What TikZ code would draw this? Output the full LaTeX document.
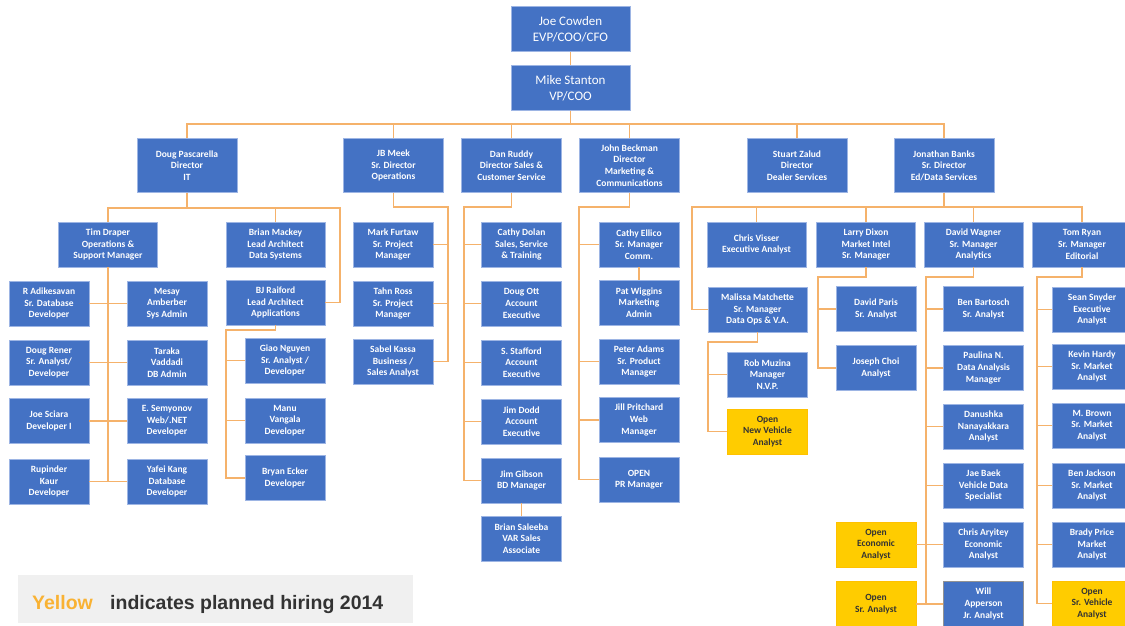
\documentclass[tikz,border=0pt]{standalone}
\usepackage{fontspec}
\setmainfont{Carlito}
\newfontfamily\keyfont{Liberation Sans}
\usetikzlibrary{positioning,calc}
\definecolor{boxblue}{HTML}{4472C4}
\definecolor{boxedge}{HTML}{9DB5E4}
\definecolor{linkorange}{HTML}{F5B26B}
\definecolor{openyellow}{HTML}{FFCC00}
\definecolor{keygray}{HTML}{F0F0F0}
\definecolor{keyyellow}{HTML}{F9B233}
\definecolor{keytext}{HTML}{333333}
\tikzset{
  staffbox/.style={draw=boxedge, line width=0.7pt, fill=boxblue, text=white, align=center,
    minimum width=80pt, minimum height=45pt, inner sep=1pt,
    font=\bfseries\fontsize{9.5}{11.6}\selectfont},
  widebox/.style={staffbox, minimum width=99pt},
  dirbox/.style={widebox, minimum width=100pt, minimum height=54pt},
  topbox/.style={staffbox, minimum width=119pt, minimum height=45pt,
    font=\fontsize{13}{16}\selectfont},
  openbox/.style={staffbox, draw=openyellow!85!orange, fill=openyellow, text=black!80},
  willbox/.style={staffbox, draw=gray!85, line width=1.3pt},
  link/.style={draw=linkorange, line width=1.8pt},
  thinlink/.style={link, line width=1.3pt}
}
\begin{document}
\begin{tikzpicture}[x=1pt,y=-1pt]
  \useasboundingbox (0,0) rectangle (1125,626);
  \node[topbox] (jc) at (570.5,29) {Joe Cowden\\EVP/COO/CFO};
  \node[topbox] (ms) at (570.5,88) {Mike Stanton\\VP/COO};
  \draw[link] (jc.south) -- (ms.north);
  \foreach \n/\x/\t in {
    dp/187/{Doug Pascarella\\Director\\IT},
    jm/393.5/{JB Meek\\Sr. Director\\Operations},
    dr/511.5/{Dan Ruddy\\Director Sales \&\\Customer Service},
    jb/629.5/{John Beckman\\Director\\Marketing \&\\Communications},
    sz/797/{Stuart Zalud\\Director\\Dealer Services},
    jbk/944/{Jonathan Banks\\Sr. Director\\Ed/Data Services}} {
    \node[dirbox] (\n) at (\x,165.5) {\t};
    \draw[link] (ms.south) -- ++(0,13) -| (\n.north);
  }

  % IT
  \node[widebox] (td) at (108,244.5) {Tim Draper\\Operations \&\\Support Manager};
  \node[widebox] (bm) at (275.5,244.5) {Brian Mackey\\Lead Architect\\Data Systems};
  \node[widebox] (bj) at (275.5,302.5) {BJ Raiford\\Lead Architect\\Applications};
  \draw[link] (dp.south) -- ++(0,15) -| (td.north);
  \draw[link] (dp.south) -- ++(0,15) -| (bm.north);
  \draw[link] (dp.south) |- ++(153,15) |- (bj.east);
  \foreach \a/\b/\y/\s/\t in {
    ra/mab/303.5/{R Adikesavan\\Sr. Database\\Developer}/{Mesay\\Amberber\\Sys Admin},
    drn/tv/362.5/{Doug Rener\\Sr. Analyst/\\Developer}/{Taraka\\Vaddadi\\DB Admin},
    js/es/421/{Joe Sciara\\Developer I}/{E. Semyonov\\Web/.NET\\Developer},
    rk/yk/481.5/{Rupinder\\Kaur\\Developer}/{Yafei Kang\\Database\\Developer}} {
    \node[staffbox] (\a) at (49,\y) {\s};
    \node[staffbox] (\b) at (167,\y) {\t};
    \draw[thinlink] (\a.east) -- (\b.west);
  }
  \draw[thinlink] (td.south) -- (td.south |- rk.east);
  \foreach \n/\y/\t in {
    gn/360.5/{Giao Nguyen\\Sr. Analyst /\\Developer},
    mv/420.5/{Manu\\Vangala\\Developer},
    be/478/{Bryan Ecker\\Developer}} {
    \node[staffbox] (\n) at (285,\y) {\t};
    \draw[link] (bj.south) -- ++(0,5) -| ([xshift=-19pt]\n.west) -- (\n.west);
  }

  % Operations
  \foreach \n/\y/\t in {
    mf/244.5/{Mark Furtaw\\Sr. Project\\Manager},
    tro/303.5/{Tahn Ross\\Sr. Project\\Manager},
    sk/361.5/{Sabel Kassa\\Business /\\Sales Analyst}} {
    \node[staffbox] (\n) at (393,\y) {\t};
    \draw[link] (jm.south) -- ++(0,14) -| ([xshift=15pt]\n.east) -- (\n.east);
  }

  % Sales
  \foreach \n/\y/\t in {
    cdo/244.5/{Cathy Dolan\\Sales, Service\\\& Training},
    dot/303.5/{Doug Ott\\Account\\Executive},
    sst/362.5/{S. Stafford\\Account\\Executive},
    jdd/421.5/{Jim Dodd\\Account\\Executive},
    jgb/480.5/{Jim Gibson\\BD Manager}} {
    \node[staffbox] (\n) at (521.5,\y) {\t};
    \draw[link] (dr.south) -- ++(0,14) -| ([xshift=-17pt]\n.west) -- (\n.west);
  }
  \node[staffbox] (bsa) at (521.5,538.5) {Brian Saleeba\\VAR Sales\\Associate};
  \draw[link] (jgb.south) -- (bsa.north);

  % Marketing
  \foreach \n/\y/\t in {
    cel/244.5/{Cathy Ellico\\Sr. Manager\\Comm.},
    pad/361.5/{Peter Adams\\Sr. Product\\Manager},
    jpr/420/{Jill Pritchard\\Web\\Manager},
    opr/479.5/{OPEN\\PR Manager}} {
    \node[staffbox] (\n) at (639,\y) {\t};
    \draw[link] (jb.south) -- ++(0,14) -| ([xshift=-20pt]\n.west) -- (\n.west);
  }
  \node[staffbox] (pwg) at (639,302.5) {Pat Wiggins\\Marketing\\Admin};
  \draw[link] (cel.south) -- (pwg.north);

  % Ed/Data Services
  \foreach \n/\x/\t in {
    cv/756.5/{Chris Visser\\Executive Analyst},
    ldx/866/{Larry Dixon\\Market Intel\\Sr. Manager},
    dwg/973.5/{David Wagner\\Sr. Manager\\Analytics},
    try/1082/{Tom Ryan\\Sr. Manager\\Editorial}} {
    \node[widebox] (\n) at (\x,244.5) {\t};
    \draw[link] (jbk.south) -- ++(0,14) -| (\n.north);
  }
  \node[widebox] (mm) at (757.5,309.5) {Malissa Matchette\\Sr. Manager\\Data Ops \& V.A.};
  \draw[link] (jbk.south) -- ++(0,14) -| ([xshift=-16pt]mm.west) -- (mm.west);
  \foreach \n/\y/\s/\t in {
    rmz/374.5/staffbox/{Rob Muzina\\Manager\\N.V.P.},
    onv/431.5/openbox/{Open\\New Vehicle\\Analyst}} {
    \node[\s] (\n) at (767.5,\y) {\t};
    \draw[link] (mm.south) -- ++(0,10) -| ([xshift=-19pt]\n.west) -- (\n.west);
  }
  \foreach \n/\y/\t in {
    dpr/309/{David Paris\\Sr. Analyst},
    jch/368/{Joseph Choi\\Analyst}} {
    \node[staffbox] (\n) at (876,\y) {\t};
    \draw[link] (ldx.south) -- ++(0,10) -| ([xshift=-18pt]\n.west) -- (\n.west);
  }
  \foreach \n/\y/\s/\t in {
    bb/309/staffbox/{Ben Bartosch\\Sr. Analyst},
    pn/368/staffbox/{Paulina N.\\Data Analysis\\Manager},
    dn/426.5/staffbox/{Danushka\\Nanayakkara\\Analyst},
    jbe/485.5/staffbox/{Jae Baek\\Vehicle Data\\Specialist},
    car/544.5/staffbox/{Chris Aryitey\\Economic\\Analyst},
    wap/604/willbox/{Will\\Apperson\\Jr. Analyst}} {
    \node[\s] (\n) at (983.5,\y) {\t};
    \draw[link] (dwg.south) -- ++(0,10) -| ([xshift=-17pt]\n.west) -- (\n.west);
  }
  \node[openbox] (oea) at (876,544.5) {Open\\Economic\\Analyst};
  \node[openbox] (osa) at (876,604) {Open\\Sr. Analyst};
  \draw[thinlink] (oea.east) -- (car.west);
  \draw[thinlink] (osa.east) -- (wap.west);
  \foreach \n/\y/\s/\t in {
    ssn/309.5/staffbox/{Sean Snyder\\Executive\\Analyst},
    khd/366.5/staffbox/{Kevin Hardy\\Sr. Market\\Analyst},
    mbr/425.5/staffbox/{M. Brown\\Sr. Market\\Analyst},
    bjn/485.5/staffbox/{Ben Jackson\\Sr. Market\\Analyst},
    bpr/544.5/staffbox/{Brady Price\\Market\\Analyst},
    osv/603.5/openbox/{Open\\Sr. Vehicle\\Analyst}} {
    \node[\s] (\n) at (1092,\y) {\t};
    \draw[link] (try.south) -- ++(0,10) -| ([xshift=-15pt]\n.west) -- (\n.west);
  }

  % key
  \node[fill=keygray, minimum width=395pt, minimum height=48pt, inner sep=0pt, anchor=north west] (key) at (18,575) {};
  \node[anchor=base west, inner sep=0pt, text=keyyellow, font=\keyfont\bfseries\fontsize{19.5}{22}\selectfont] (keyy) at (32,609) {Yellow};
  \node[anchor=base west, inner sep=0pt, text=keytext, font=\keyfont\bfseries\fontsize{19.5}{22}\selectfont] (keyt) at (110,609) {indicates planned hiring 2014};
\end{tikzpicture}
\end{document}
